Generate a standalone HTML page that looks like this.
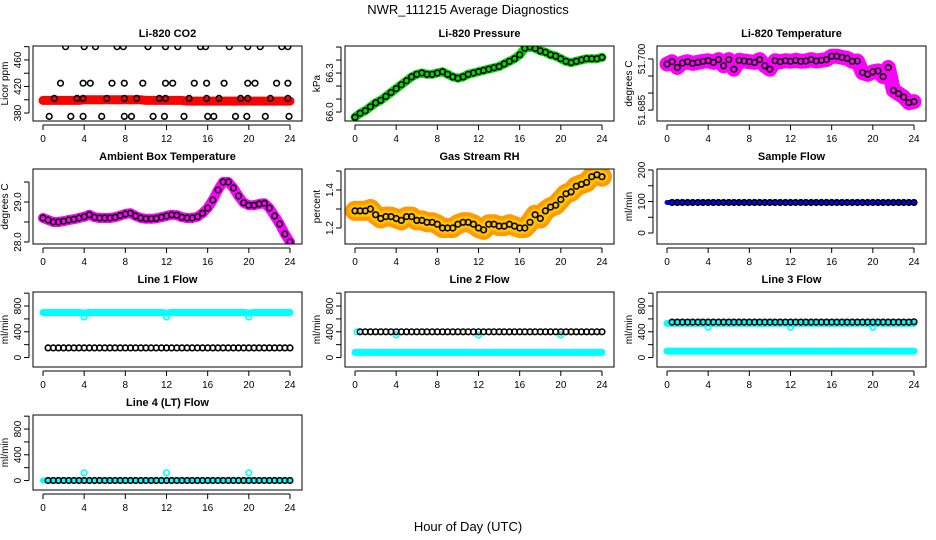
<!DOCTYPE html>
<html><head><meta charset="utf-8">
<style>
html,body{margin:0;padding:0;background:#fff;}
svg{display:block;font-family:"Liberation Sans",sans-serif;}
</style></head>
<body>
<svg id="chart" width="936" height="540" viewBox="0 0 936 540" xmlns="http://www.w3.org/2000/svg">
<rect x="0" y="0" width="936" height="540" fill="#fff"/>
<text x="468" y="14" font-size="13" text-anchor="middle">NWR_111215  Average Diagnostics</text>
<text x="468" y="531" font-size="13" text-anchor="middle">Hour of Day (UTC)</text>
</svg>
<script>
// ---- data ----
const halfHours = [0,0.5,1,1.5,2,2.5,3,3.5,4,4.5,5,5.5,6,6.5,7,7.5,8,8.5,9,9.5,10,10.5,11,11.5,12,12.5,13,13.5,14,14.5,15,15.5,16,16.5,17,17.5,18,18.5,19,19.5,20,20.5,21,21.5,22,22.5,23,23.5,24];
const xTicks = [0,4,8,12,16,20,24];

const co2Red = [399,399,399,399,399,399,399,399,400,400,400,400,400,400,400,400,400,400,400,400,399,399,399,399,399,399,399,399,398,398,398,398,398,398,398,398,398,398,398,398,398,398,398,398,398,398,398,398,398];
const co2PtHours = [2.2,4.0,5.1,7.2,7.8,10.2,11.9,13.1,15.3,15.8,18.1,19.9,21.1,23.2,23.8,
 1.7,3.9,4.6,6.7,7.9,9.7,11.9,12.6,14.7,15.9,17.6,19.9,20.6,22.7,23.8,
 1.1,3.3,3.9,6.2,7.9,9.1,11.3,11.9,14.2,15.9,17.1,19.2,19.9,22.1,23.8,
 0.6,2.7,3.9,5.7,7.9,8.6,10.7,11.8,13.7,16.0,16.6,18.7,19.8,21.6,23.9];
const co2PtValues = [480,480,480,480,480,480,480,480,480,480,480,480,480,480,480,
 425,425,425,425,425,425,425,425,425,425,425,425,425,425,425,
 402,402,402,402,402,402,402,402,402,402,402,402,402,402,402,
 375,375,375,375,375,375,375,375,375,375,375,375,375,375,375];

const pressure = [65.96,65.99,66.01,66.04,66.07,66.09,66.12,66.15,66.18,66.21,66.24,66.27,66.29,66.30,66.29,66.29,66.30,66.31,66.29,66.27,66.26,66.27,66.29,66.30,66.31,66.32,66.33,66.34,66.35,66.37,66.39,66.41,66.44,66.49,66.50,66.49,66.47,66.46,66.44,66.43,66.41,66.39,66.38,66.39,66.40,66.41,66.41,66.41,66.42];

const liTemp = [51.6985,51.6992,51.6975,51.6988,51.6992,51.6987,51.6990,51.6993,51.6995,51.6990,51.6998,51.6980,51.6998,51.6970,51.6996,51.6994,51.6992,51.6990,51.6998,51.6980,51.6970,51.6995,51.6992,51.6995,51.6993,51.6996,51.6993,51.6994,51.6998,51.6994,51.6996,51.6998,51.7008,51.7008,51.7005,51.7002,51.6993,51.6994,51.6960,51.6955,51.6962,51.6965,51.6948,51.6975,51.6908,51.6898,51.6888,51.6872,51.6875];

const ambient = [28.6,28.55,28.5,28.5,28.52,28.55,28.57,28.6,28.63,28.68,28.62,28.6,28.6,28.6,28.62,28.66,28.7,28.72,28.65,28.6,28.58,28.58,28.59,28.62,28.65,28.68,28.67,28.62,28.6,28.6,28.63,28.72,28.85,29.05,29.3,29.5,29.5,29.35,29.15,28.98,28.92,28.92,28.95,28.97,28.85,28.65,28.45,28.2,28.0];

const rh = [1.29,1.29,1.29,1.30,1.27,1.25,1.26,1.26,1.25,1.24,1.26,1.26,1.24,1.24,1.23,1.23,1.22,1.20,1.20,1.20,1.22,1.23,1.23,1.22,1.20,1.19,1.22,1.22,1.21,1.21,1.22,1.21,1.20,1.20,1.23,1.27,1.25,1.29,1.31,1.32,1.35,1.38,1.39,1.42,1.43,1.44,1.47,1.48,1.47];

const sampleFlow = [97,97,97,97,97,97,97,97,97,97,97,97,97,97,97,97,97,97,97,97,97,97,97,97,97,97,97,97,97,97,97,97,97,97,97,97,97,97,97,97,97,97,97,97,97,97,97,97,97];

const line1Cyan = [700,700,700,700,700,700,700,700,690,700,700,700,700,700,700,700,700,700,700,700,700,700,700,700,690,700,700,700,700,700,700,700,700,700,700,700,700,700,700,700,690,700,700,700,700,700,700,700,700];
const line1Black = [150,150,150,150,150,150,150,150,150,150,150,150,150,150,150,150,150,150,150,150,150,150,150,150,150,150,150,150,150,150,150,150,150,150,150,150,150,150,150,150,150,150,150,150,150,150,150,150,150];
const line1DipHours = [4,12,20];
const line1DipValues = [630,630,630];

const line2Cyan = [80,80,80,80,80,80,80,80,80,80,80,80,80,80,80,80,80,80,80,80,80,80,80,80,80,80,80,80,80,80,80,80,80,80,80,80,80,80,80,80,80,80,80,80,80,80,80,80,80];
const line2Black = [400,400,400,400,400,400,400,400,400,400,400,400,400,400,400,400,400,400,400,400,400,400,400,400,400,400,400,400,400,400,400,400,400,400,400,400,400,400,400,400,400,400,400,400,400,400,400,400,400];
const line2DipHours = [0.2,4,12,20];
const line2DipValues = [400,350,350,350];

const line3CyanHi = [530,530,530,530,530,530,530,530,530,530,530,530,530,530,530,530,530,530,530,530,530,530,530,530,530,530,530,530,530,530,530,530,530,530,530,530,530,530,530,530,530,530,530,530,530,530,530,530,530];
const line3CyanLo = [100,100,100,100,100,100,100,100,100,100,100,100,100,100,100,100,100,100,100,100,100,100,100,100,100,100,100,100,100,100,100,100,100,100,100,100,100,100,100,100,100,100,100,100,100,100,100,100,100];
const line3Black = [550,550,550,550,550,550,550,550,550,550,550,550,550,550,550,550,550,550,550,550,550,550,550,550,550,550,550,550,550,550,550,550,550,550,550,550,550,550,550,550,550,550,550,550,550,550,550,550,555];
const line3DipHours = [4,12,20];
const line3DipValues = [470,470,470];

const line4Cyan = [0,0,0,0,0,0,0,0,0,0,0,0,0,0,0,0,0,0,0,0,0,0,0,0,0,0,0,0,0,0,0,0,0,0,0,0,0,0,0,0,0,0,0,0,0,0,0,0,0];
const line4Black = [0,0,0,0,0,0,0,0,0,0,0,0,0,0,0,0,0,0,0,0,0,0,0,0,0,0,0,0,0,0,0,0,0,0,0,0,0,0,0,0,0,0,0,0,0,0,0,0,0];
const line4SpikeHours = [4,12,20];
const line4SpikeValues = [120,120,120];

const flowTicks = [0,200,400,600,800,1000];
const flowLabels = ["0","400","800"];

// ---- drawing ----
const svg = document.getElementById('chart');
const NS = 'http://www.w3.org/2000/svg';
function mk(tag, attrs, parent){
  const e = document.createElementNS(NS, tag);
  for (const k in attrs) e.setAttribute(k, attrs[k]);
  (parent||svg).appendChild(e);
  return e;
}
const ROW_TOP = [46,169,292,415];
const BOX_H = 75;

function panel(cfg){
  const col = cfg.col, row = cfg.row;
  const L = 33 + 312*col, R = 302 + 312*col;
  const T = ROW_TOP[row], B = T + BOX_H;
  const g = mk('g', {});
  
  
  const xs = h => 43 + 312*col + h*(247/24);
  const ys = v => T + (cfg.ymax - v)/(cfg.ymax - cfg.ymin)*BOX_H;
  const clip = 'clip-' + cfg.name;
  const cp = mk('clipPath', {id: clip}, g);
  mk('rect', {x:L, y:T, width:R-L, height:BOX_H}, cp);
  const plot = mk('g', {'clip-path':'url(#'+clip+')'}, g);
  cfg.series.forEach(s => {
    if (s.type === 'band') {
      const pts = s.x.map((h,i)=> xs(h).toFixed(1)+','+ys(s.y[i]).toFixed(1)).join(' ');
      const pl = mk('polyline', {points:pts, fill:'none', stroke:s.color, 'stroke-width':s.w, 'stroke-linejoin':'round', 'stroke-linecap':'round', opacity:s.op||1}, plot);
      
      
    } else {
      s.x.forEach((h,i)=>{
        const c = mk('circle', {cx:xs(h).toFixed(1), cy:ys(s.y[i]).toFixed(1), r:s.r||2.8, fill:'none', stroke:s.color, 'stroke-width':s.sw||1.6}, plot);
        
        
      });
    }
  });
  const box = mk('rect', {x:L, y:T, width:R-L, height:BOX_H, fill:'none', stroke:'#000', 'stroke-width':1}, g);
  
  
  const t = mk('text', {x:(L+R)/2, y:T-9, 'font-size':11, 'font-weight':'bold', 'text-anchor':'middle'}, g);
  t.textContent = cfg.title;
  
  
  // x axis
  mk('line', {x1:xs(0), x2:xs(24), y1:B+4, y2:B+4, stroke:'#000'}, g);
  xTicks.forEach(h=>{
    mk('line', {x1:xs(h), x2:xs(h), y1:B+4, y2:B+9, stroke:'#000'}, g);
    const lt = mk('text', {x:xs(h), y:B+21, 'font-size':10, 'text-anchor':'middle'}, g);
    lt.textContent = String(h);
    
    
  });
  // y axis
  const yt = cfg.yticks;
  mk('line', {x1:L-4, x2:L-4, y1:ys(yt[0]), y2:ys(yt[yt.length-1]), stroke:'#000'}, g);
  yt.forEach(v=>{ mk('line', {x1:L-9, x2:L-4, y1:ys(v), y2:ys(v), stroke:'#000'}, g); });
  cfg.ylabels.forEach(lab=>{
    const y = ys(parseFloat(lab)), x = L-12;
    const lt = mk('text', {x:x, y:y, 'font-size':10, 'text-anchor':'middle', transform:'rotate(-90 '+x+' '+y+')'}, g);
    lt.textContent = lab;
    
    
  });
  const yx = L-25, yy = (T+B)/2;
  const yl = mk('text', {x:yx, y:yy, 'font-size':10, 'text-anchor':'middle', transform:'rotate(-90 '+yx+' '+yy+')'}, g);
  yl.textContent = cfg.ylab;
  
  
}

panel({name:'co2-panel', col:0,row:0,title:'Li-820 CO2',ylab:'Licor ppm',ymin:368,ymax:481,
  yticks:[380,400,420,440,460,480], ylabels:['380','420','460'],
  series:[{type:'band',name:'co2-raw',color:'#ff0000',w:9,x:halfHours,y:co2Red},
          {type:'pts',name:'co2-avg',color:'#000',x:co2PtHours,y:co2PtValues}]});
panel({name:'pressure-panel', col:1,row:0,title:'Li-820 Pressure',ylab:'kPa',ymin:65.931,ymax:66.508,
  yticks:[66.0,66.1,66.2,66.3,66.4,66.5], ylabels:['66.0','66.3'],
  series:[{type:'band',name:'pressure-raw',color:'#00dd00',w:9,x:halfHours,y:pressure},
          {type:'pts',name:'pressure-avg',color:'#000',x:halfHours,y:pressure}]});
panel({name:'li-temp-panel', col:2,row:0,title:'Li-820 Temperature',ylab:'degrees C',ymin:51.6818,ymax:51.7038,
  yticks:[51.685,51.690,51.695,51.700], ylabels:['51.685','51.700'],
  series:[{type:'band',name:'li-temp-raw',color:'#ff00ff',w:15,x:halfHours,y:liTemp},
          {type:'pts',name:'li-temp-avg',color:'#000',x:halfHours,y:liTemp}]});
panel({name:'ambient-panel', col:0,row:1,title:'Ambient Box Temperature',ylab:'degrees C',ymin:27.95,ymax:29.825,
  yticks:[28.0,28.5,29.0,29.5], ylabels:['28.0','29.0'],
  series:[{type:'band',name:'ambient-raw',color:'#ff00ff',w:10,x:halfHours,y:ambient},
          {type:'pts',name:'ambient-avg',color:'#000',x:halfHours,y:ambient}]});
panel({name:'rh-panel', col:1,row:1,title:'Gas Stream RH',ylab:'percent',ymin:1.1158,ymax:1.5105,
  yticks:[1.2,1.3,1.4,1.5], ylabels:['1.2','1.4'],
  series:[{type:'band',name:'rh-raw',color:'#ff9a00',w:20,x:halfHours,y:rh},
          {type:'band',name:'rh-raw-yellow',color:'#ffe000',w:12,op:0.6,x:halfHours,y:rh},
          {type:'pts',name:'rh-avg',color:'#000',x:halfHours,y:rh}]});
panel({name:'sample-flow-panel', col:2,row:1,title:'Sample Flow',ylab:'ml/min',ymin:-34.9,ymax:203.2,
  yticks:[0,50,100,150,200], ylabels:['0','100','200'],
  series:[{type:'band',name:'sample-flow-raw',color:'#0000ff',w:5,x:halfHours,y:sampleFlow},
          {type:'pts',name:'sample-flow-avg',color:'#000',x:halfHours.slice(1),y:sampleFlow.slice(1)}]});
panel({name:'line1-panel', col:0,row:2,title:'Line 1 Flow',ylab:'ml/min',ymin:-147,ymax:1018,
  yticks:flowTicks, ylabels:flowLabels,
  series:[{type:'band',name:'line1-raw',color:'#00ffff',w:7,x:halfHours,y:line1Cyan},
          {type:'pts',name:'line1-dips',color:'#00ffff',x:line1DipHours,y:line1DipValues},
          {type:'pts',name:'line1-avg',color:'#000',x:halfHours.slice(1),y:line1Black.slice(1)}]});
panel({name:'line2-panel', col:1,row:2,title:'Line 2 Flow',ylab:'ml/min',ymin:-147,ymax:1018,
  yticks:flowTicks, ylabels:flowLabels,
  series:[{type:'band',name:'line2-raw',color:'#00ffff',w:7,x:halfHours,y:line2Cyan},
          {type:'pts',name:'line2-dips',color:'#00ffff',x:line2DipHours,y:line2DipValues},
          {type:'pts',name:'line2-avg',color:'#000',x:halfHours.slice(1),y:line2Black.slice(1)}]});
panel({name:'line3-panel', col:2,row:2,title:'Line 3 Flow',ylab:'ml/min',ymin:-147,ymax:1018,
  yticks:flowTicks, ylabels:flowLabels,
  series:[{type:'band',name:'line3-raw-high',color:'#00ffff',w:7,x:halfHours,y:line3CyanHi},
          {type:'band',name:'line3-raw-low',color:'#00ffff',w:7,x:halfHours,y:line3CyanLo},
          {type:'pts',name:'line3-dips',color:'#00ffff',x:line3DipHours,y:line3DipValues},
          {type:'pts',name:'line3-avg',color:'#000',x:halfHours.slice(1),y:line3Black.slice(1)}]});
panel({name:'line4-panel', col:0,row:3,title:'Line 4 (LT) Flow',ylab:'ml/min',ymin:-147,ymax:1018,
  yticks:flowTicks, ylabels:flowLabels,
  series:[{type:'band',name:'line4-raw',color:'#00ffff',w:6,x:halfHours,y:line4Cyan},
          {type:'pts',name:'line4-spikes',color:'#00ffff',x:line4SpikeHours,y:line4SpikeValues},
          {type:'pts',name:'line4-avg',color:'#000',x:halfHours.slice(1),y:line4Black.slice(1)}]});
</script>
</body></html>
